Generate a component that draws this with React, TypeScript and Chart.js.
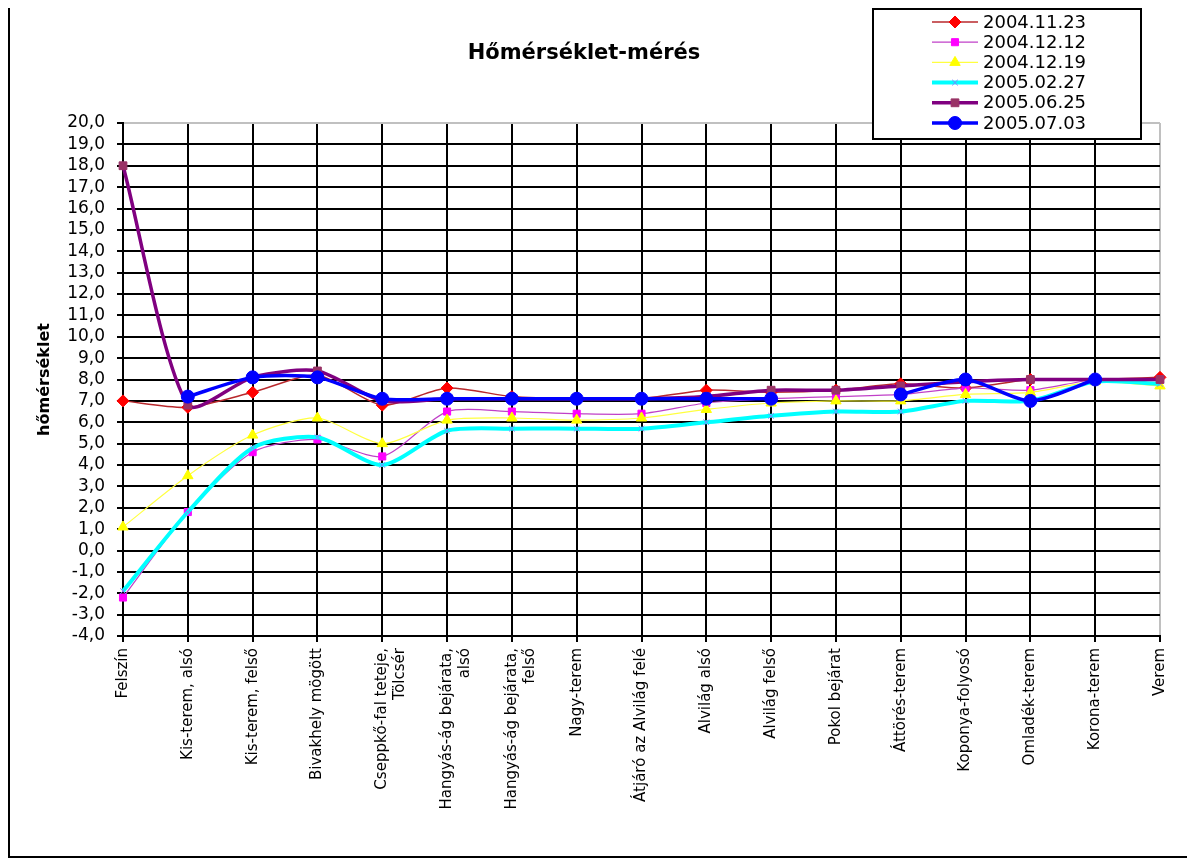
import React, { useEffect, useRef } from 'react';
import { Chart, registerables } from 'chart.js';
import { drawPoint } from 'chart.js/helpers';

Chart.register(...registerables);

const categories: (string | string[])[] = [
  'Felszín',
  'Kis-terem, alsó',
  'Kis-terem, felső',
  'Bivakhely mögött',
  ['Cseppkő-fal teteje,', 'Tölcsér'],
  ['Hangyás-ág bejárata,', 'alsó'],
  ['Hangyás-ág bejárata,', 'felső'],
  'Nagy-terem',
  'Átjáró az Alvilág felé',
  'Alvilág alsó',
  'Alvilág felső',
  'Pokol bejárat',
  'Áttörés-terem',
  'Koponya-folyosó',
  'Omladék-terem',
  'Korona-terem',
  'Verem',
];

const seriesNames = ['2004.11.23', '2004.12.12', '2004.12.19', '2005.02.27', '2005.06.25', '2005.07.03'];

const s20041123 = [7.0, 6.7, 7.4, 8.2, 6.8, 7.6, 7.2, 7.1, 7.1, 7.5, 7.4, 7.5, 7.8, 7.6, 8.0, 8.0, 8.1];
const s20041212 = [-2.2, 1.8, 4.6, 5.2, 4.4, 6.5, 6.5, 6.4, 6.4, 6.9, 7.1, 7.2, 7.3, 7.6, 7.5, 8.0, 8.0];
const s20041219 = [1.1, 3.5, 5.4, 6.2, 5.0, 6.1, 6.2, 6.1, 6.2, 6.6, 6.9, 7.0, 7.0, 7.3, 7.4, 7.9, 7.7];
const s20050227 = [-1.9, 1.8, 4.8, 5.3, 4.0, 5.6, 5.7, 5.7, 5.7, 6.0, 6.3, 6.5, 6.5, 7.0, 7.0, 7.9, 7.8];
const s20050625 = [18.0, 6.8, 8.1, 8.4, 7.0, 7.1, 7.1, 7.1, 7.1, 7.2, 7.5, 7.5, 7.7, 7.9, 8.0, 8.0, 8.0];
const s20050703 = [null, 7.2, 8.1, 8.1, 7.1, 7.1, 7.1, 7.1, 7.1, 7.1, 7.1, null, 7.3, 8.0, 7.0, 8.0, null];

const yMin = -4;
const yMax = 20;
const yStep = 1;

const FONT = "'DejaVu Sans', Verdana, sans-serif";
const TENSION = 0.25;

const legendPlugin = {
  id: 'boxLegend',
  afterDraw(chart: any) {
    const ctx = chart.ctx as CanvasRenderingContext2D;
    const bx = 864, by = 0, bw = 270, bh = 132;
    ctx.save();
    ctx.fillStyle = '#ffffff';
    ctx.fillRect(bx, by, bw, bh);
    ctx.strokeStyle = '#000000';
    ctx.lineWidth = 2;
    ctx.strokeRect(bx + 1, by + 1, bw - 2, bh - 2);
    chart.data.datasets.forEach((ds: any, i: number) => {
      const y = 14 + i * 20.2;
      ctx.strokeStyle = ds.borderColor;
      ctx.lineWidth = ds.borderWidth;
      ctx.beginPath();
      ctx.moveTo(924, y);
      ctx.lineTo(970, y);
      ctx.stroke();
      ctx.fillStyle = ds.pointBackgroundColor;
      ctx.strokeStyle = ds.pointBorderColor;
      ctx.lineWidth = ds.pointBorderWidth ?? 1;
      drawPoint(ctx, { pointStyle: ds.pointStyle, radius: ds.pointRadius, rotation: 0, borderWidth: ds.pointBorderWidth ?? 1 }, 947, y);
      ctx.fillStyle = '#000000';
      ctx.font = `18px ${FONT}`;
      ctx.textBaseline = 'middle';
      ctx.textAlign = 'left';
      ctx.fillText(ds.label, 975, y + 1);
    });
    ctx.restore();
  },
};

const framePlugin = {
  id: 'frame',
  afterDraw(chart: any) {
    const ctx = chart.ctx as CanvasRenderingContext2D;
    ctx.save();
    ctx.strokeStyle = '#000000';
    ctx.lineWidth = 2;
    ctx.beginPath();
    ctx.moveTo(1, 0);
    ctx.lineTo(1, chart.height - 2);
    ctx.lineTo(chart.width, chart.height - 2);
    ctx.stroke();
    ctx.restore();
  },
};

export default function App() {
  const ref = useRef<HTMLCanvasElement | null>(null);
  useEffect(() => {
    if (!ref.current) return;
    const chart = new Chart(ref.current, {
      type: 'line',
      data: {
        labels: categories,
        datasets: [
          {
            label: seriesNames[0], data: s20041123, borderColor: '#b8282c', borderWidth: 1.5,
            pointStyle: 'rectRot', pointRadius: 6, pointBackgroundColor: '#ff0000', pointBorderColor: '#ff0000', pointBorderWidth: 1,
            tension: TENSION, order: 5,
          },
          {
            label: seriesNames[1], data: s20041212, borderColor: '#c040c8', borderWidth: 1.2,
            pointStyle: 'rect', pointRadius: 5, pointBackgroundColor: '#ff00ff', pointBorderColor: '#ff00ff', pointBorderWidth: 1,
            tension: TENSION, order: 4,
          },
          {
            label: seriesNames[2], data: s20041219, borderColor: '#ffff40', borderWidth: 1.2,
            pointStyle: 'triangle', pointRadius: 6, pointBackgroundColor: '#ffff00', pointBorderColor: '#ffff00', pointBorderWidth: 1,
            tension: TENSION, order: 3,
          },
          {
            label: seriesNames[3], data: s20050227, borderColor: '#00ffff', borderWidth: 4,
            pointStyle: 'crossRot', pointRadius: 4, pointBackgroundColor: '#00ffff', pointBorderColor: '#8080ff', pointBorderWidth: 1,
            tension: TENSION, order: 2,
          },
          {
            label: seriesNames[4], data: s20050625, borderColor: '#800080', borderWidth: 3.5,
            pointStyle: 'rect', pointRadius: 5.5, pointBackgroundColor: '#993366', pointBorderColor: '#993366', pointBorderWidth: 1,
            tension: TENSION, order: 1,
          },
          {
            label: seriesNames[5], data: s20050703, borderColor: '#0000ff', borderWidth: 3.5,
            pointStyle: 'circle', pointRadius: 6.5, pointBackgroundColor: '#0000ff', pointBorderColor: '#0000ff', pointBorderWidth: 1,
            tension: TENSION, order: 0, spanGaps: false,
          },
        ],
      },
      options: {
        animation: false,
        responsive: false,
        maintainAspectRatio: false,
        layout: { padding: { left: 0, right: 27, top: 0, bottom: 0 } },
        plugins: {
          legend: { display: false },
          tooltip: { enabled: false },
          title: {
            display: true,
            text: 'Hőmérséklet-mérés',
            color: '#000',
            font: { family: FONT, size: 21, weight: 'bold', lineHeight: 1.2 },
            padding: { top: 33, bottom: 56.8 },
          },
        },
        scales: {
          x: {
            type: 'category',
            offset: false,
            afterFit(scale: any) { scale.height = 851 - 628; },
            grid: {
              display: true,
              color: (c: any) => (c.index === categories.length - 1 ? '#c0c0c0' : '#000000'),
              tickColor: '#000000',
              lineWidth: 2,
              tickLength: 6,
              drawTicks: true,
            },
            border: { display: true, color: '#000000', width: 2 },
            ticks: {
              autoSkip: false,
              minRotation: 90,
              maxRotation: 90,
              padding: 6,
              color: '#000',
              font: { family: FONT, size: 15 },
            },
          },
          y: {
            min: yMin,
            max: yMax,
            afterFit(scale: any) { scale.width = 115; },
            grid: {
              color: (c: any) => (c.tick && c.tick.value === yMax ? '#c0c0c0' : '#000000'),
              tickColor: '#000000',
              lineWidth: 2,
              tickLength: 6,
            },
            border: { display: true, color: '#000000', width: 2 },
            ticks: {
              stepSize: yStep,
              autoSkip: false,
              maxTicksLimit: 40,
              padding: 12,
              color: '#000',
              font: { family: FONT, size: 17, lineHeight: 1 },
              callback: (v: any) => Number(v).toFixed(1).replace('.', ','),
            },
            title: {
              display: true,
              text: 'hőmérséklet',
              color: '#000',
              font: { family: FONT, size: 16, weight: 'bold', lineHeight: 1.2 },
              padding: { top: 27, bottom: 0 },
            },
          },
        },
      } as any,
      plugins: [framePlugin, legendPlugin],
    });
    return () => chart.destroy();
  }, []);
  return (
    <div style={{ width: 1179, height: 851 }}>
      <canvas ref={ref} width={1179} height={851} style={{ display: 'block' }} />
    </div>
  );
}
